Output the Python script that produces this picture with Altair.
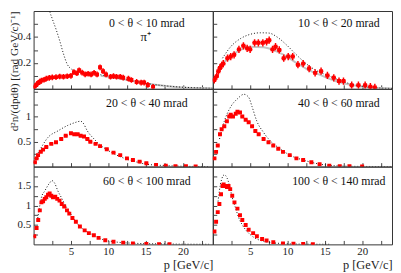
import json
import altair as alt
import pandas as pd

FONT = "Liberation Serif"
RED = "#ff0000"

PANEL_LABELS = ["0 < θ < 10 mrad", "10 < θ < 20 mrad", "20 < θ < 40 mrad",
                "40 < θ < 60 mrad", "60 < θ < 100 mrad", "100 < θ < 140 mrad"]
PARTICLE = "π⁺"
Y_TITLE = "d²n/(dpdθ) [(rad GeV/c)⁻¹]"
X_TITLE = "p [GeV/c]"

X_MAX = 24
X_TICKS = [2.5, 5, 7.5, 10, 12.5, 15, 17.5, 20, 22.5]
X_LABELED = [5, 10, 15, 20]
Y_MAX = [0.6, 1.56, 2.0]
Y_TICKS = [[0.1, 0.2, 0.3, 0.4, 0.5],
           [0.25, 0.5, 0.75, 1.0, 1.25, 1.5],
           [0.25, 0.5, 0.75, 1.0, 1.25, 1.5, 1.75]]
Y_LABELED = [[0.2, 0.4], [0.5, 1], [0.5, 1, 1.5]]

# measured points (p in GeV/c, value)
P1_P = [0.1, 0.35, 0.6, 0.85, 1.05, 1.4, 1.7, 2.1, 2.5, 3.0, 3.5, 4.0, 4.5, 5.0, 5.4, 5.8, 6.1, 6.5,
        6.9, 7.3, 7.7, 8.1, 8.5, 8.9, 9.3, 9.7, 10.3, 10.7, 11.1, 11.6, 12.0, 12.7, 13.1, 13.8,
        14.4, 14.8, 15.3, 16.0]
P1_V = [0.015, 0.03, 0.045, 0.055, 0.063, 0.07, 0.078, 0.085, 0.088, 0.09, 0.095, 0.093, 0.097,
        0.10, 0.128, 0.12, 0.143, 0.125, 0.112, 0.116, 0.111, 0.123, 0.111, 0.166, 0.136, 0.111,
        0.093, 0.098, 0.093, 0.093, 0.086, 0.078, 0.068, 0.053, 0.048, 0.048, 0.03, 0.015]

P2_P = [0.2, 0.53, 0.75, 0.95, 1.2, 1.4, 1.97, 2.4, 2.85, 3.5, 4.1, 4.6, 5.0, 5.6, 6.1, 6.7, 7.2,
        7.55, 8.0, 8.4, 8.9, 9.5, 10.1, 10.7, 11.4, 12.1, 12.9, 13.7, 14.5, 15.35, 16.2, 16.9,
        17.5, 18.6, 19.5, 20.4, 21.1, 21.7]
P2_V = [0.068, 0.098, 0.136, 0.161, 0.181, 0.194, 0.236, 0.249, 0.262, 0.304, 0.332, 0.312, 0.304,
        0.355, 0.355, 0.355, 0.362, 0.375, 0.304, 0.325, 0.30, 0.236, 0.249, 0.249, 0.186, 0.194,
        0.156, 0.123, 0.136, 0.103, 0.085, 0.06, 0.06, 0.028, 0.028, 0.028, 0.016, 0.011]

P3_P = [0.17, 0.4, 0.6, 0.96, 1.27, 1.7, 2.37, 3.0, 3.7, 4.3, 5.0, 5.45, 5.9, 6.3, 6.75, 7.2, 7.6,
        8.3, 8.9, 9.8, 10.7, 11.6, 12.5, 13.3, 14.2, 15.1, 16.4, 17.7, 19.0, 20.4, 21.7]
P3_V = [0.087, 0.165, 0.23, 0.295, 0.34, 0.392, 0.456, 0.489, 0.553, 0.618, 0.67, 0.65, 0.65,
        0.618, 0.605, 0.553, 0.5, 0.456, 0.41, 0.346, 0.28, 0.23, 0.165, 0.132, 0.1, 0.068, 0.035,
        0.016, 0.01, 0.005, 0.003]

P4_P = [0.22, 0.44, 0.66, 0.96, 1.18, 1.54, 1.88, 2.2, 2.4, 2.7, 3.07, 3.3, 3.64, 3.95, 4.4, 4.8,
        5.26, 5.7, 6.14, 6.8, 7.46, 8.1, 8.77, 9.4, 10.3, 11.2, 12.1, 13.2, 14.3, 15.6, 17.0, 18.3,
        20.0]
P4_V = [0.165, 0.295, 0.423, 0.65, 0.748, 0.81, 0.91, 1.006, 1.04, 1.006, 1.06, 1.10, 1.085, 1.006,
        0.94, 0.89, 0.81, 0.715, 0.65, 0.553, 0.489, 0.423, 0.359, 0.295, 0.23, 0.165, 0.132, 0.087,
        0.048, 0.016, 0.01, 0.007, 0.004]

P5_P = [0.09, 0.4, 0.62, 0.83, 1.05, 1.27, 1.49, 1.7, 1.93, 2.15, 2.37, 2.6, 2.9, 3.16, 3.47, 3.77,
        4.1, 4.47, 4.78, 5.2, 5.66, 6.2, 6.84, 7.4, 8.07, 8.7, 9.6, 10.7, 12.0, 13.3, 15.1, 16.8, 18.2]
P5_V = [0.21, 0.42, 0.625, 0.875, 1.08, 1.11, 1.17, 1.21, 1.275, 1.31, 1.25, 1.21, 1.225, 1.17,
        1.125, 1.04, 0.975, 0.875, 0.79, 0.68, 0.58, 0.46, 0.36, 0.29, 0.233, 0.167, 0.108, 0.067,
        0.04, 0.025, 0.012, 0.006, 0.004]

P6_P = [0.22, 0.44, 0.66, 0.88, 1.1, 1.3, 1.45, 1.7, 1.9, 2.1, 2.33, 2.6, 2.9, 3.3, 3.64, 3.95, 4.4,
        4.8, 5.4, 5.9, 6.6, 7.2, 8.1, 9.4, 10.8, 12.1, 13.4]
P6_V = [0.33, 0.58, 0.83, 1.04, 1.29, 1.5, 1.54, 1.5, 1.475, 1.5, 1.42, 1.25, 1.08, 0.92, 0.75,
        0.625, 0.5, 0.375, 0.29, 0.21, 0.14, 0.1, 0.058, 0.025, 0.015, 0.008, 0.004]

# model curves (dotted)
D1_P = [2.0, 2.2, 2.5, 3.0, 3.5, 4.0, 4.5, 5.0, 5.5, 6.0, 7, 8, 9, 10, 11, 12, 13, 14, 15, 16, 18, 20, 22, 24]
D1_V = [0.64, 0.59, 0.54, 0.46, 0.37, 0.27, 0.19, 0.155, 0.14, 0.132, 0.125, 0.118, 0.108, 0.097,
        0.087, 0.076, 0.064, 0.053, 0.043, 0.034, 0.021, 0.012, 0.007, 0.004]
D2_P = [1.3, 2.4, 3.7, 5.0, 6.4, 7.5, 8.6, 9.9, 11.2, 12.5, 13.8, 15.6, 16.9, 18.6, 20.4, 22.6, 24]
D2_V = [0.236, 0.325, 0.387, 0.42, 0.432, 0.43, 0.40, 0.337, 0.262, 0.194, 0.143, 0.098, 0.068,
        0.035, 0.015, 0.005, 0.003]
D3_P = [0.2, 1.05, 1.93, 3.25, 4.56, 5.45, 6.3, 6.6, 7.2, 8.1, 8.9, 10.3, 11.6, 13.3, 15.1, 17.7, 20.4, 23.5]
D3_V = [0.165, 0.39, 0.586, 0.715, 0.825, 0.878, 0.91, 0.88, 0.715, 0.553, 0.437, 0.295, 0.198,
        0.113, 0.048, 0.02, 0.005, 0.001]
D4_P = [0.9, 1.54, 2.4, 3.3, 4.17, 4.8, 5.26, 5.9, 6.8, 7.67, 9.0, 10.3, 12.1, 14.3, 17.0, 20.0, 24]
D4_V = [0.553, 0.91, 1.2, 1.36, 1.45, 1.39, 1.2, 0.91, 0.684, 0.52, 0.36, 0.23, 0.132, 0.05,
        0.012, 0.003, 0.001]
D5_P = [0.5, 0.83, 1.05, 1.5, 2.15, 2.46, 2.8, 3.25, 3.7, 4.1, 4.9, 5.7, 6.75, 8.0, 8.9, 11.1, 13.3, 17.7, 23.5]
D5_V = [0.6, 1.0, 1.21, 1.375, 1.58, 1.64, 1.58, 1.375, 1.21, 1.06, 0.8, 0.57, 0.375, 0.24, 0.15,
        0.06, 0.03, 0.01, 0.002]
D6_P = [0.7, 0.88, 1.18, 1.54, 1.9, 2.2, 2.6, 3.07, 3.5, 3.95, 4.6, 5.5, 6.8, 9.0, 11.2, 15.6]
D6_V = [1.1, 1.375, 1.67, 1.79, 1.71, 1.54, 1.21, 0.92, 0.67, 0.5, 0.33, 0.18, 0.08, 0.025, 0.008, 0.002]

# second model curves (grey)
G1_P = [9, 10, 12, 14, 16, 18, 20, 22, 24]
G1_V = [0.1, 0.092, 0.074, 0.052, 0.033, 0.02, 0.011, 0.006, 0.003]
G2_P = [1.0, 2.4, 3.7, 5.0, 6.8, 8.6, 9.9, 11.2, 12.9, 14.2, 16.4, 18.6, 20.8, 23.4, 24]
G2_V = [0.18, 0.25, 0.30, 0.325, 0.32, 0.287, 0.249, 0.2, 0.143, 0.111, 0.06, 0.03, 0.012, 0.004, 0.003]

# uncertainty half-widths per panel
XERR = [0.2, 0.3, 0.25, 0.22, 0.18, 0.15]
YERR = [0.022, 0.028, 0.012, 0.015, 0.015, 0.02]

POINTS = [(P1_P, P1_V), (P2_P, P2_V), (P3_P, P3_V), (P4_P, P4_V), (P5_P, P5_V), (P6_P, P6_V)]
DOTTED = [(D1_P, D1_V), (D2_P, D2_V), (D3_P, D3_V), (D4_P, D4_V), (D5_P, D5_V), (D6_P, D6_V)]
GREY = {0: (G1_P, G1_V), 1: (G2_P, G2_V)}

W, H = 182, 79
LABEL_X = [115, 128]
LABEL_Y = [12, 14, 15]


def labexpr(vals):
    return "indexof(%s, datum.value) >= 0 ? format(datum.value, '~g') : ''" % json.dumps(vals)


def panel(i):
    row, col = divmod(i, 2)
    left = col == 0
    bottom = row == 2
    xs = alt.Scale(domain=[0, X_MAX], nice=False, zero=False)
    ys = alt.Scale(domain=[0, Y_MAX[row]], nice=False, zero=False)

    xa = dict(values=X_TICKS, offset=-4, tickSize=4, tickColor="#444", domain=False, grid=False,
              labels=bottom, labelFont=FONT, labelFontSize=11, labelColor="#222", labelPadding=1,
              labelExpr=labexpr(X_LABELED))
    if bottom:
        xa.update(title=X_TITLE, titleFont=FONT, titleFontSize=12.5, titleFontWeight="normal",
                  titleAnchor="end", titlePadding=2, titleColor="#222")
    else:
        xa.update(title=None)
    ya = dict(values=Y_TICKS[row], offset=-4, tickSize=4, tickColor="#444", domain=False, grid=False,
              labels=left, labelFont=FONT, labelFontSize=11, labelColor="#222", labelPadding=3,
              labelExpr=labexpr(Y_LABELED[row]))
    if i == 0:
        ya.update(title=Y_TITLE, titleFont=FONT, titleFontSize=11.5, titleFontWeight="normal",
                  titleAngle=270, titleAlign="right", titleBaseline="bottom", titleX=-18, titleY=0,
                  titleColor="#222")
    else:
        ya.update(title=None)

    def X(f):
        return alt.X(f + ":Q", scale=xs, axis=alt.Axis(**xa))

    def Y(f):
        return alt.Y(f + ":Q", scale=ys, axis=alt.Axis(**ya))

    pp, pv = POINTS[i]
    pts = pd.DataFrame({"p": pp, "v": pv})
    pts["plo"] = pts["p"] - XERR[i]
    pts["phi"] = pts["p"] + XERR[i]
    pts["vlo"] = pts["v"] - YERR[i]
    pts["vhi"] = pts["v"] + YERR[i]

    layers = []
    if i in GREY:
        gp, gv = GREY[i]
        layers.append(alt.Chart(pd.DataFrame({"p": gp, "v": gv})).mark_line(
            color="#c4c4c4", strokeWidth=2, clip=True, interpolate="monotone").encode(x=X("p"), y=Y("v")))
    dp, dv = DOTTED[i]
    layers.append(alt.Chart(pd.DataFrame({"p": dp, "v": dv})).mark_line(
        color="#111", strokeWidth=1, strokeDash=[1, 2], clip=True, interpolate="monotone").encode(
        x=X("p"), y=Y("v")))
    layers.append(alt.Chart(pts).mark_rule(color=RED, strokeWidth=1.5, clip=True).encode(
        x=X("plo"), x2="phi", y=Y("v")))
    layers.append(alt.Chart(pts).mark_rule(color=RED, strokeWidth=1.5, clip=True).encode(
        x=X("p"), y=Y("vlo"), y2="vhi"))
    layers.append(alt.Chart(pts).mark_square(color=RED, size=16, opacity=1, clip=True).encode(
        x=X("p"), y=Y("v")))
    layers.append(alt.Chart(pd.DataFrame({"t": [PANEL_LABELS[i]]})).mark_text(
        font=FONT, fontSize=12, color="#111", baseline="middle", align="center").encode(
        text="t:N", x=alt.value(LABEL_X[col]), y=alt.value(LABEL_Y[row])))
    if i == 0:
        layers.append(alt.Chart(pd.DataFrame({"t": [PARTICLE]})).mark_text(
            font=FONT, fontSize=13, color="#111", baseline="middle", align="center").encode(
            text="t:N", x=alt.value(114), y=alt.value(26)))
    return alt.layer(*layers).properties(width=W, height=H)


chart = alt.concat(*[panel(i) for i in range(6)], columns=2, spacing=0, bounds="flush").properties(
    padding=0, background="white").configure_view(stroke="#333", strokeWidth=1)

chart.save("out.html", embed_options={"renderer": "svg", "actions": False})
